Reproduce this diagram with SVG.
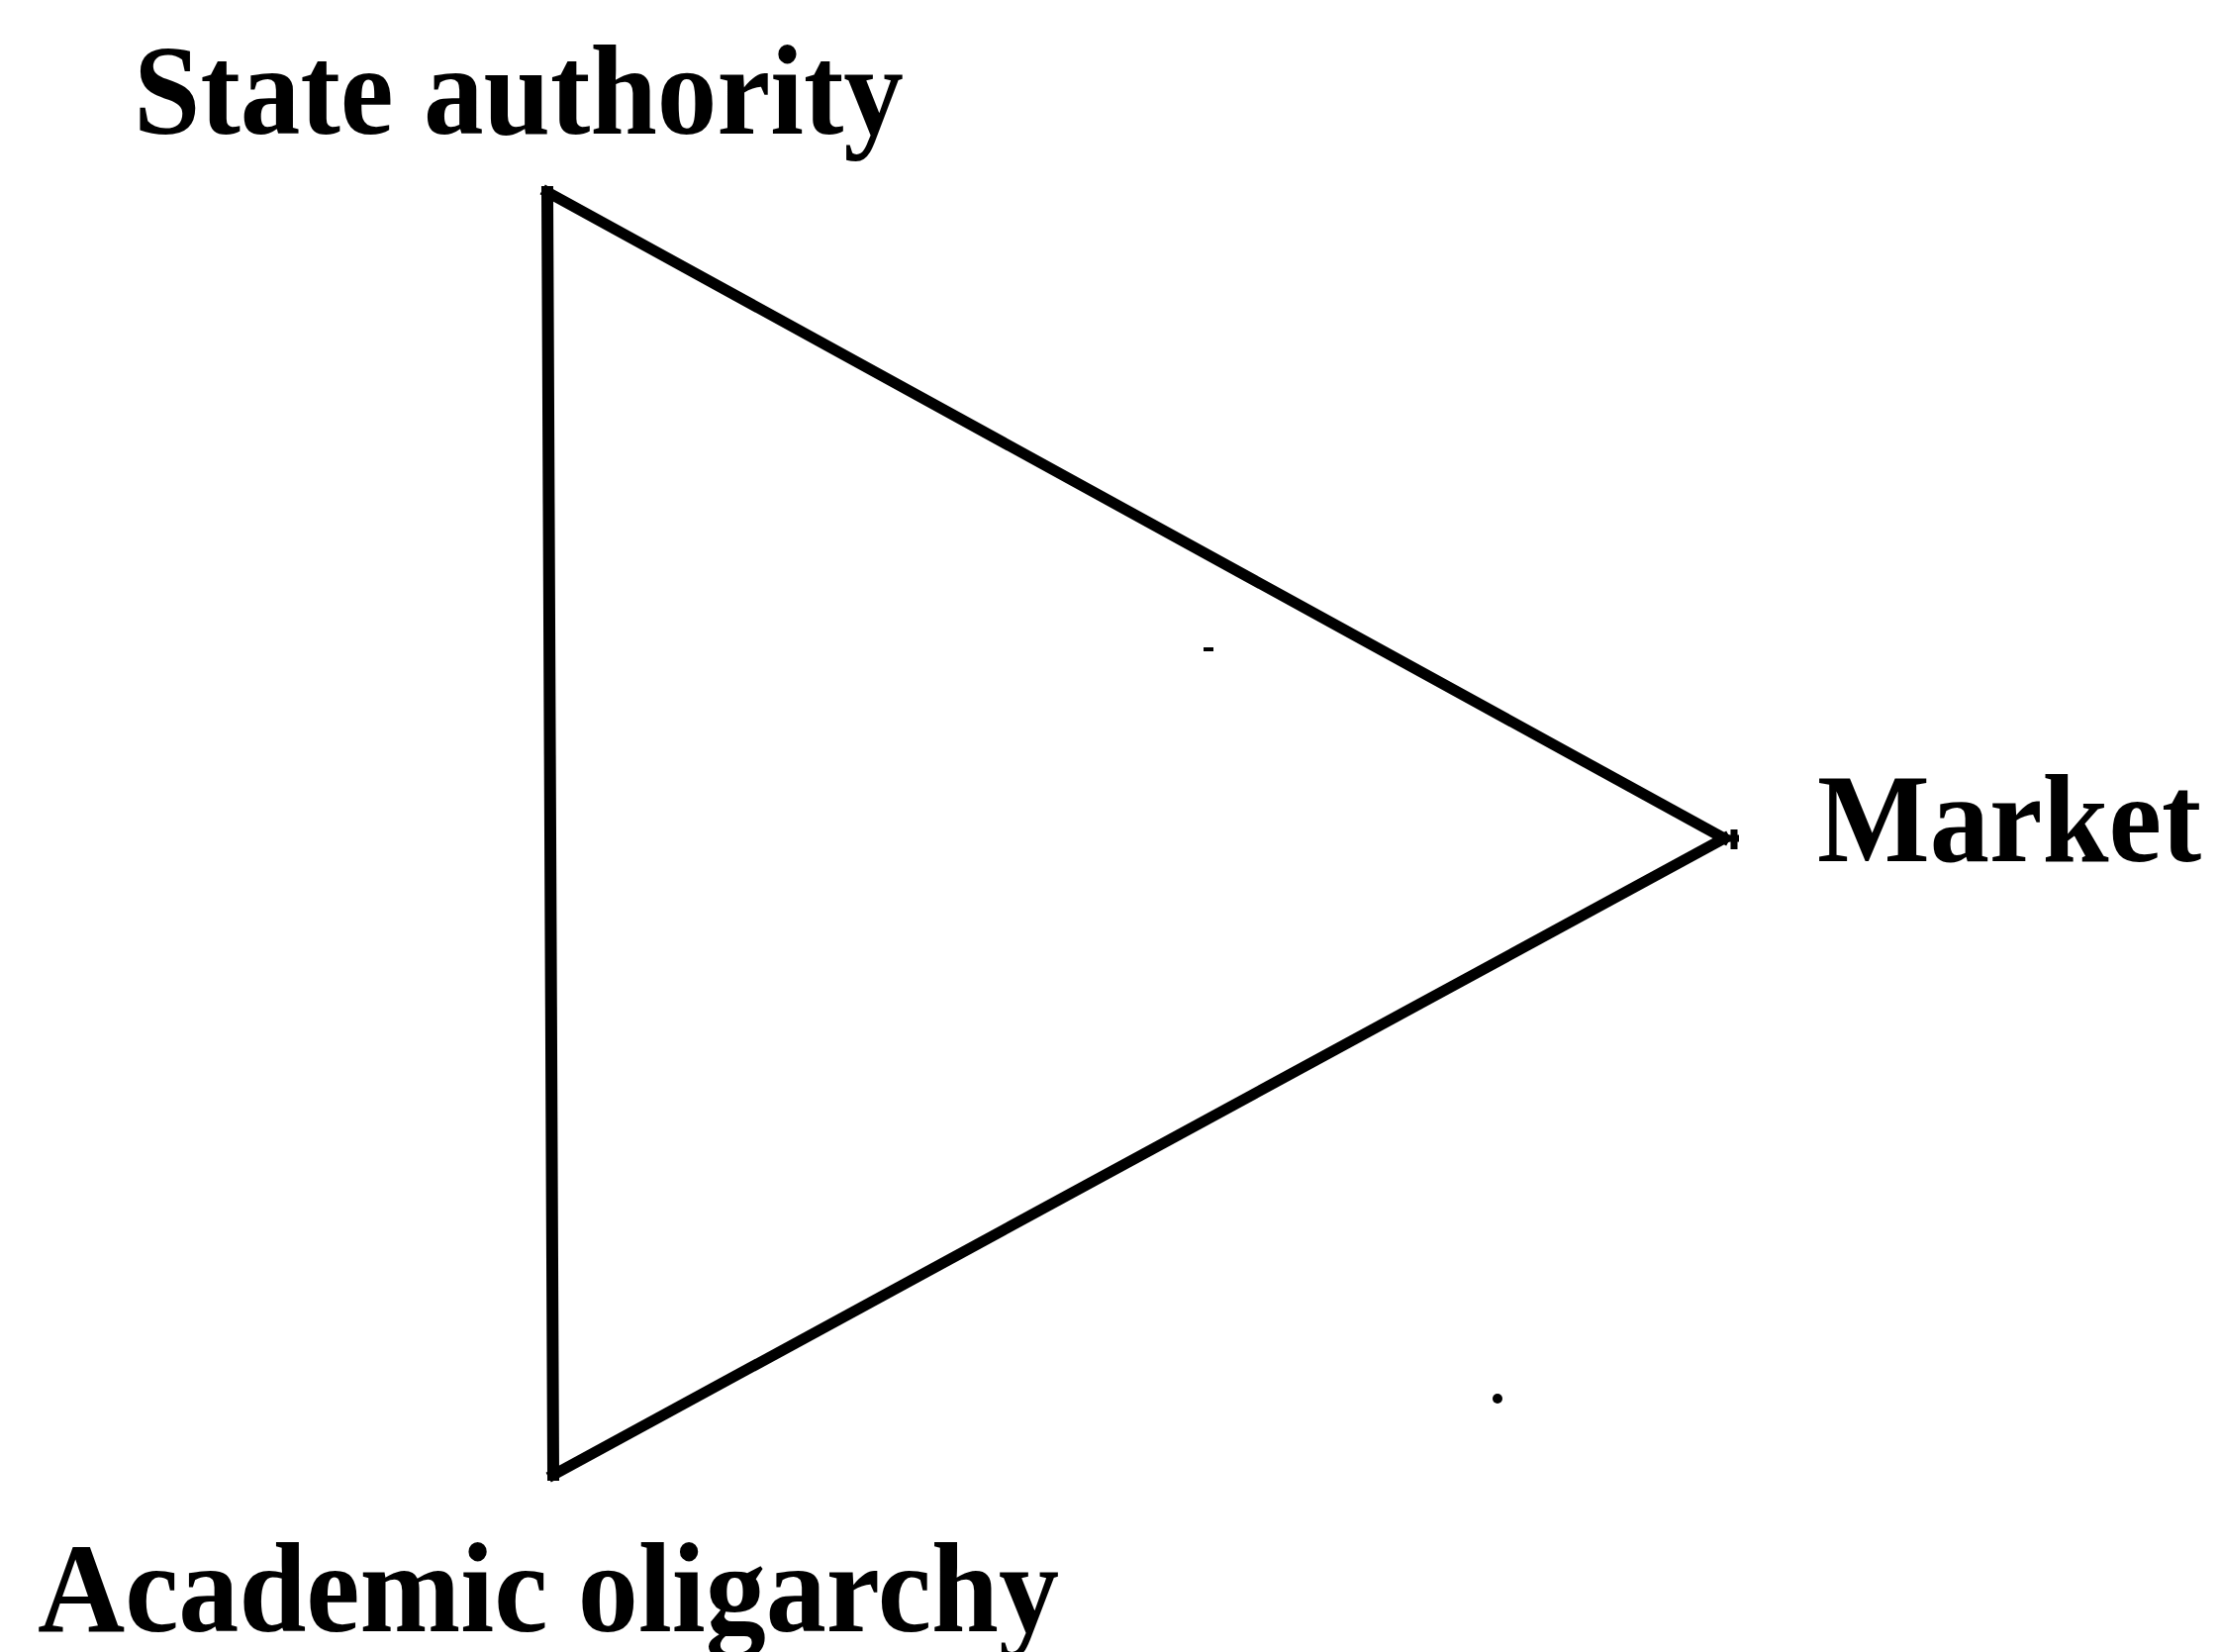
<svg xmlns="http://www.w3.org/2000/svg" width="2244" height="1669" viewBox="0 0 2244 1669">
<style>
.lbl{font-family:"Liberation Serif","Times New Roman",serif;font-weight:bold;font-size:130px;fill:#000}
.edge{stroke:#000;stroke-width:11;fill:none;stroke-linecap:square}
</style>
<rect width="2244" height="1669" fill="#fff"/>
<g id="connectors">
<line class="edge" x1="553" y1="194" x2="559" y2="1490" style="stroke-width:12"/>
<line class="edge" x1="553" y1="194" x2="1742" y2="847"/>
<line class="edge" x1="559" y1="1490" x2="1742" y2="847"/>
<path d="M1742 847 L1757 847 M1752 838 L1752 858" stroke="#000" stroke-width="7"/>
</g>
<g id="node-state">
<text class="lbl" x="135" y="135" textLength="778" lengthAdjust="spacingAndGlyphs">State authority</text>
</g>
<g id="node-market">
<text class="lbl" x="1836" y="870" style="font-size:128px" textLength="388" lengthAdjust="spacingAndGlyphs">Market</text>
</g>
<g id="node-academic">
<text class="lbl" x="38" y="1648" textLength="1032" lengthAdjust="spacingAndGlyphs">Academic oligarchy</text>
</g>
<rect x="1216" y="654" width="10" height="4" fill="#000"/>
<circle cx="1513" cy="1413" r="5" fill="#000"/>
</svg>
